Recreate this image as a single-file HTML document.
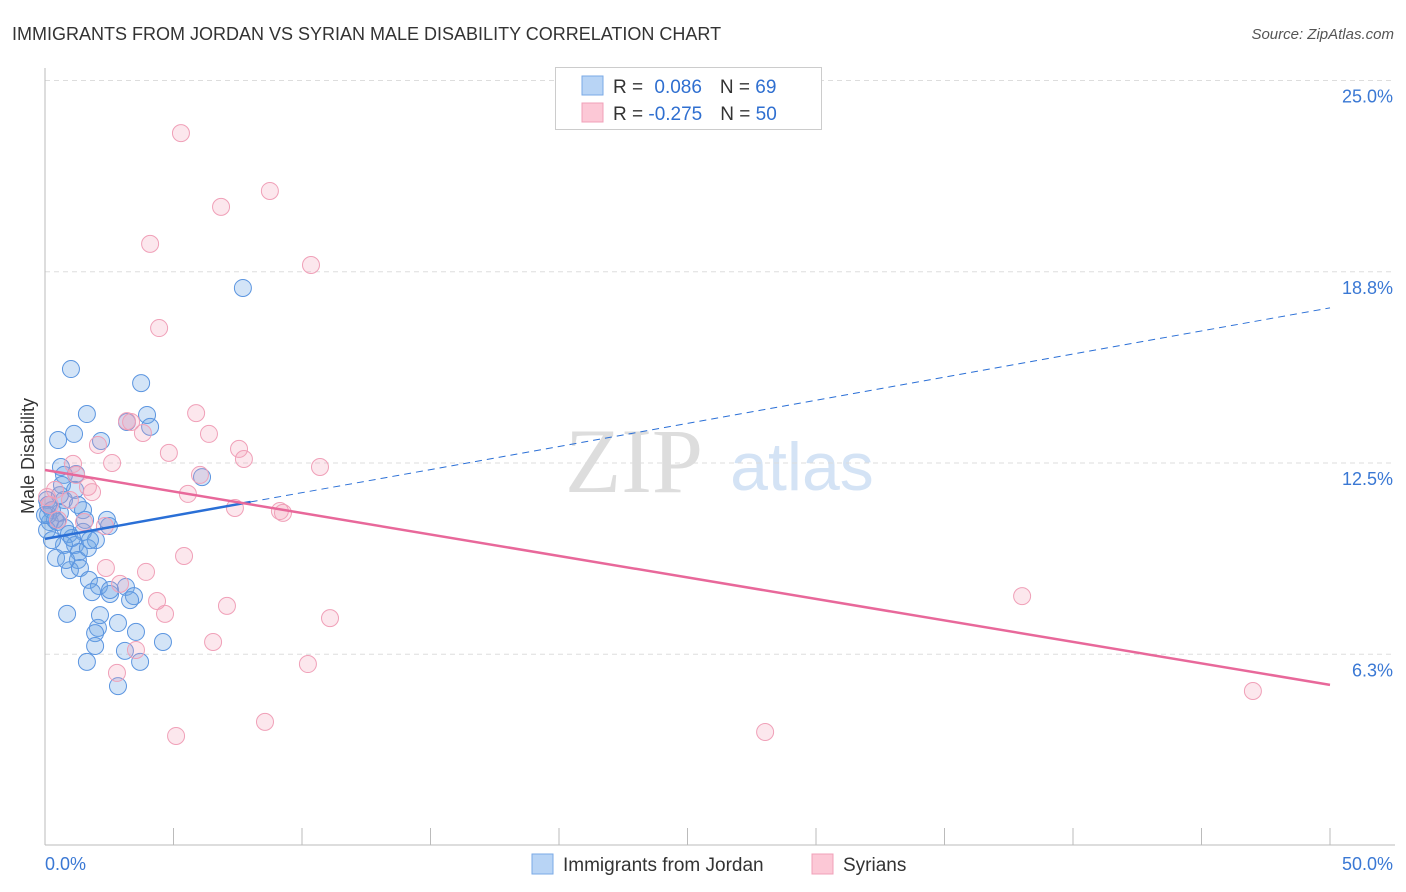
<!DOCTYPE html>
<html><head><meta charset="utf-8"><style>
body{margin:0;background:#fff;font-family:"Liberation Sans",sans-serif;}
#wrap{position:relative;width:1406px;height:892px;overflow:hidden;}
</style></head><body>
<div id="wrap">
<svg id="svg" width="1406" height="892" xmlns="http://www.w3.org/2000/svg">
<text x="12" y="40" font-size="18" fill="#333">IMMIGRANTS FROM JORDAN VS SYRIAN MALE DISABILITY CORRELATION CHART</text>
<text x="1394" y="39" font-size="15" fill="#555" font-style="italic" text-anchor="end">Source: ZipAtlas.com</text>
<text x="634" y="492" font-size="92" fill="#ddd" font-family="Liberation Serif,serif" text-anchor="middle">ZIP</text>
<text x="802" y="490" font-size="68" fill="#d4e3f5" text-anchor="middle">atlas</text>
<text transform="translate(34,456) rotate(-90)" font-size="18" fill="#333" text-anchor="middle">Male Disability</text>
<g id="grid"></g><g id="pts"></g><g id="trend"></g>
<g>
<rect x="555.5" y="67.5" width="266" height="62" fill="#fff" stroke="#ccc"/>
<rect x="582" y="76" width="21" height="19" fill="#b8d4f5" stroke="#7aaae6"/>
<rect x="582" y="103" width="21" height="19" fill="#fcc8d6" stroke="#f0a0b8"/>
<text x="613" y="93" font-size="19" fill="#333">R = <tspan fill="#2f6fd0" dx="6">0.086</tspan><tspan dx="18">N = </tspan><tspan fill="#2f6fd0">69</tspan></text>
<text x="613" y="120" font-size="19" fill="#333">R = <tspan fill="#2f6fd0">-0.275</tspan><tspan dx="18">N = </tspan><tspan fill="#2f6fd0">50</tspan></text>
</g>
<g>
<rect x="532" y="854" width="21" height="20" fill="#b8d4f5" stroke="#7aaae6"/>
<text x="563" y="871" font-size="19" fill="#333">Immigrants from Jordan</text>
<rect x="812" y="854" width="21" height="20" fill="#fcc8d6" stroke="#f0a0b8"/>
<text x="843" y="871" font-size="19" fill="#333">Syrians</text>
</g>
</svg>
</div>
<script>
const blueX=[1.01,3.74,1.63,3.97,4.09,1.13,2.18,0.51,3.19,7.70,0.62,0.74,1.21,6.11,0.74,1.28,0.08,0.27,0.58,1.48,0.19,0.47,2.49,0.93,1.48,1.98,1.17,0.74,1.32,0.43,1.28,0.97,1.36,1.71,2.10,1.83,2.53,3.15,3.46,0.12,0.86,2.06,1.95,2.84,3.54,4.59,1.95,3.11,3.70,1.63,2.84,0.08,0.39,0.00,1.67,0.82,0.12,2.53,1.05,0.58,1.56,2.14,2.41,3.31,0.78,0.27,0.66,1.75,1.17];
const blueY=[15.57,15.11,14.10,14.07,13.68,13.45,13.22,13.25,13.84,18.22,12.37,12.11,12.14,12.04,11.29,11.13,11.29,10.96,10.87,10.96,10.57,10.57,10.44,10.18,10.25,9.98,9.82,9.82,9.59,9.40,9.33,9.00,9.07,8.68,8.48,8.28,8.22,8.45,8.15,10.80,7.57,7.11,6.94,7.27,6.98,6.65,6.52,6.36,6.00,6.00,5.21,10.31,10.64,10.80,9.72,9.33,11.13,8.35,10.05,11.45,10.64,7.53,10.64,8.02,10.38,9.98,11.78,9.98,11.62];
const pinkX=[5.29,8.75,6.85,4.09,10.35,4.44,5.88,6.38,3.19,3.35,3.81,2.06,4.82,7.55,7.74,10.70,2.61,1.09,1.21,1.67,1.83,5.56,7.39,9.14,9.26,0.39,0.08,0.19,0.51,1.52,2.33,5.41,2.37,3.93,2.92,4.36,4.67,7.08,11.09,6.54,3.54,2.80,10.23,8.56,5.10,28.02,38.02,47.00,6.03,0.97];
const pinkY=[23.28,21.39,20.87,19.66,18.97,16.91,14.13,13.45,13.87,13.84,13.48,13.09,12.83,12.96,12.63,12.37,12.50,12.47,12.11,11.72,11.55,11.49,11.03,10.93,10.87,11.62,11.39,11.13,10.64,10.57,10.44,9.46,9.07,8.94,8.55,7.99,7.57,7.83,7.43,6.65,6.39,5.64,5.93,4.04,3.58,3.71,8.15,5.05,12.11,11.29];
const trendStart=[10.02,12.27];
const trendEnd=[17.57,5.25];
const xTicks=[0,5,10,15,20,25,30,35,40,45,50];
const yTicks=[6.25,12.5,18.75,25];
const yTickLabels=["6.3%","12.5%","18.8%","25.0%"];
const NS="http://www.w3.org/2000/svg";
const X=v=>45+v*25.7, Y=v=>463-(v-12.5)*30.6;
function mk(tag,attrs,parent){const e=document.createElementNS(NS,tag);for(const k in attrs)e.setAttribute(k,attrs[k]);parent.appendChild(e);return e;}
const grid=document.getElementById('grid');
yTicks.forEach((t,i)=>{
 const l=mk('line',{x1:45,x2:1395,y1:Y(t),y2:Y(t),stroke:'#ddd','stroke-dasharray':'5,4'},grid);
 
 
 const tx=mk('text',{x:1393,y:Y(t)+22,'font-size':18,fill:'#3a78d4','text-anchor':'end'},grid);
 tx.textContent=yTickLabels[i];
 
 
});
const ax=mk('line',{x1:45,x2:1395,y1:845,y2:845,stroke:'#bbb'},grid);


const ay=mk('line',{x1:45,x2:45,y1:68,y2:845,stroke:'#bbb'},grid);


xTicks.forEach(t=>{
 const l=mk('line',{x1:X(t),x2:X(t),y1:828,y2:845,stroke:'#bbb'},grid);
 
 
});
[[0,'0.0%','start',45],[50,'50.0%','end',1393]].forEach(a=>{
 const tx=mk('text',{x:a[3],y:870,'font-size':18,fill:'#3a78d4','text-anchor':a[2]},grid);
 tx.textContent=a[1];
 
 
});
const pts=document.getElementById('pts');
blueX.forEach((x,i)=>{
 const c=mk('circle',{cx:X(x),cy:Y(blueY[i]),r:8.5,fill:'rgba(110,165,230,0.3)',stroke:'#5b95e0','stroke-width':1},pts);
 
 
});
pinkX.forEach((x,i)=>{
 const c=mk('circle',{cx:X(x),cy:Y(pinkY[i]),r:8.5,fill:'rgba(245,160,185,0.25)',stroke:'#f0a0b8','stroke-width':1},pts);
 
 
});
const tr=document.getElementById('trend');
const bx=8;const by=trendStart[0]+(trendEnd[0]-trendStart[0])*bx/50;
const t1=mk('line',{x1:X(0),y1:Y(trendStart[0]),x2:X(bx),y2:Y(by),stroke:'#2a6fd6','stroke-width':2.5},tr);


const t2=mk('line',{x1:X(bx),y1:Y(by),x2:X(50),y2:Y(trendEnd[0]),stroke:'#2a6fd6','stroke-width':1,'stroke-dasharray':'7,5'},tr);


const t3=mk('line',{x1:X(0),y1:Y(trendStart[1]),x2:X(50),y2:Y(trendEnd[1]),stroke:'#e8689a','stroke-width':2.5},tr);


</script>
</body></html>
